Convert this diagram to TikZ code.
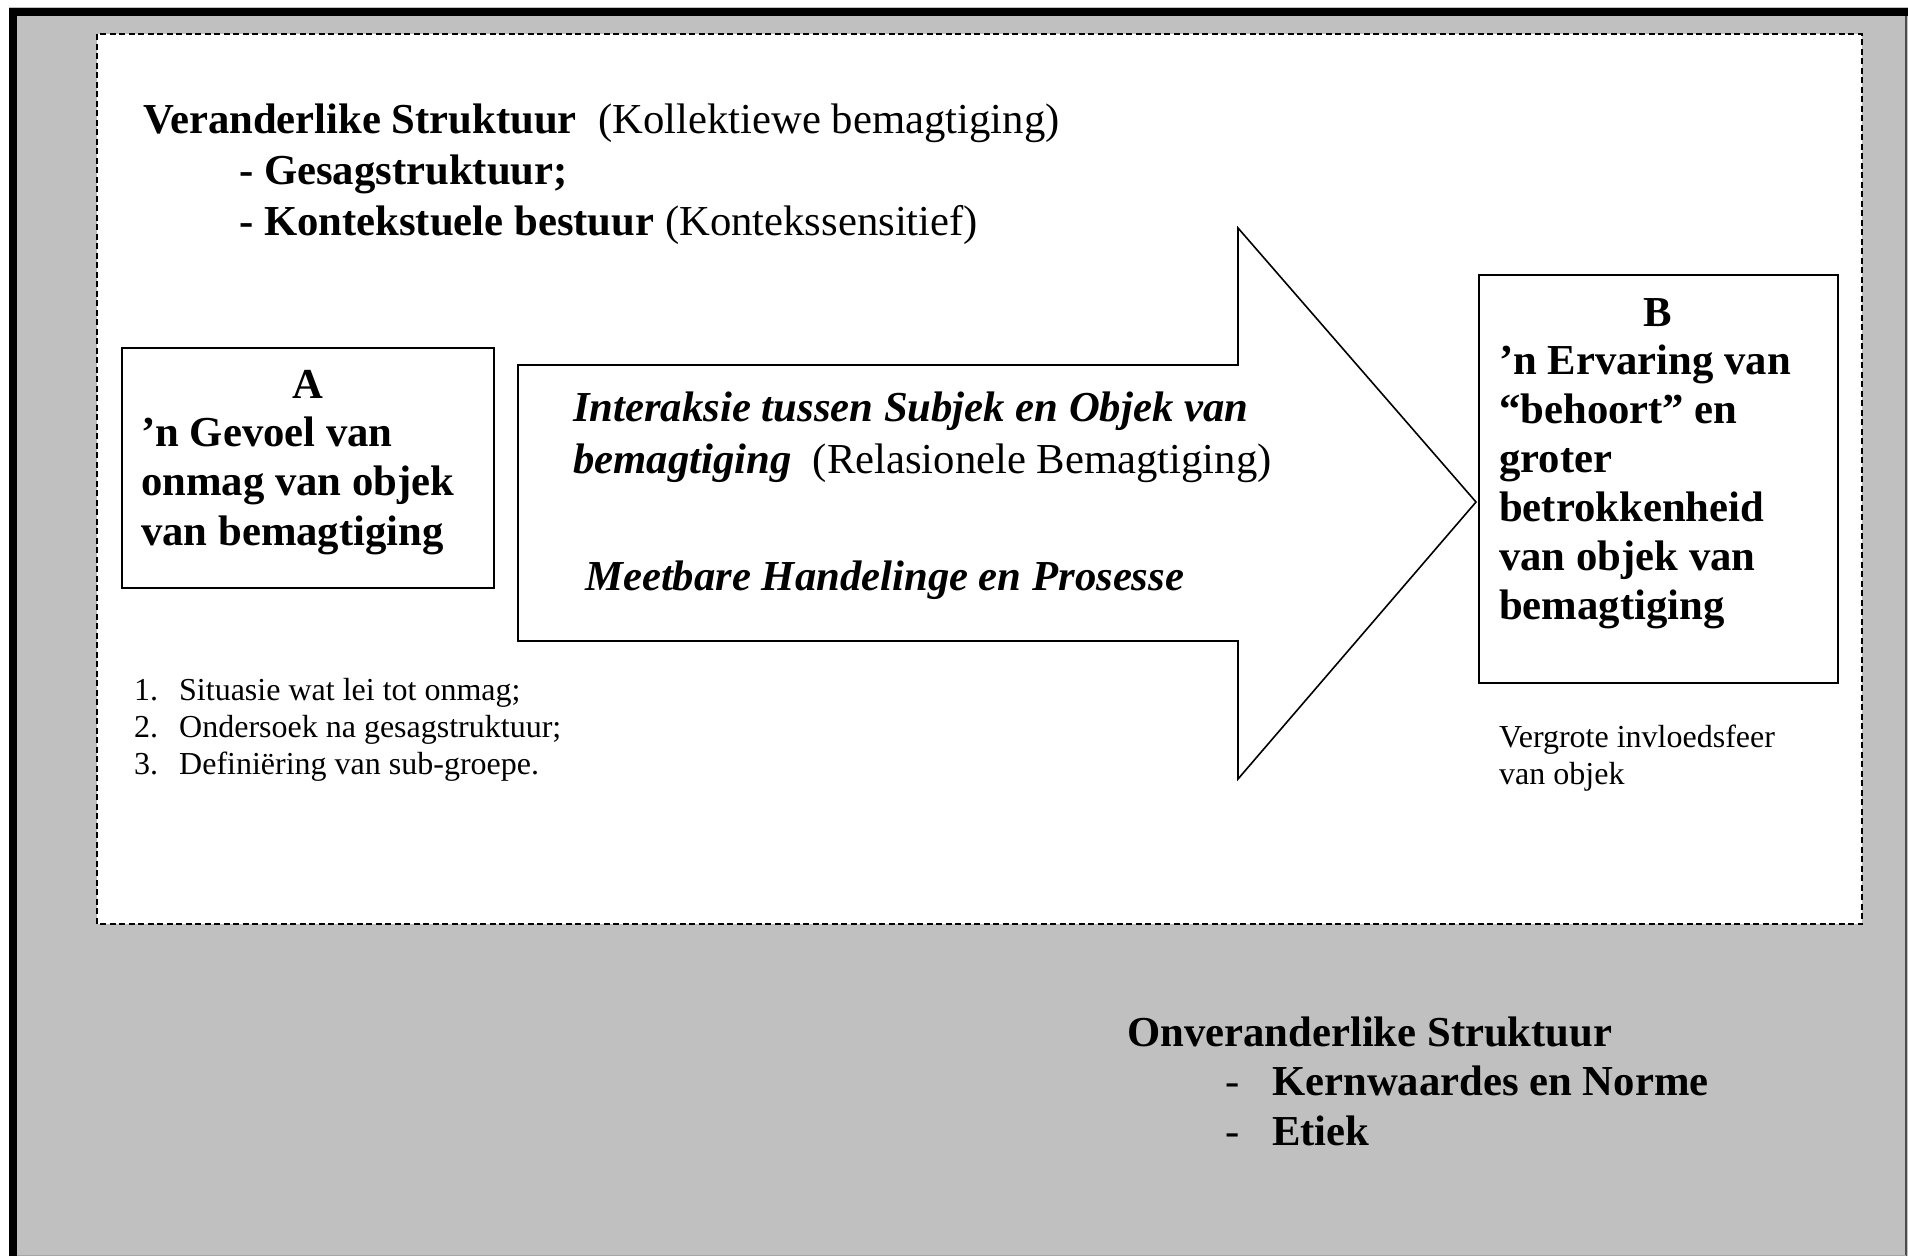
\documentclass[tikz,border=0pt]{standalone}
\usepackage{fontspec}
\setmainfont{Liberation Serif}
\newcommand\fbig{\fontsize{42.7}{49.5}\selectfont}
\newcommand\fsml{\fontsize{32}{37}\selectfont}
\definecolor{framegray}{HTML}{C0C0C0}
\tikzset{
  bold/.style={inner sep=0pt, anchor=base west, font=\fbig\bfseries},
  boldc/.style={inner sep=0pt, anchor=base, font=\fbig\bfseries},
  bital/.style={inner sep=0pt, anchor=base west, font=\fbig\bfseries\itshape},
  reg/.style={inner sep=0pt, anchor=base west, font=\fbig},
  small/.style={inner sep=0pt, anchor=base west, font=\fsml},
  boxstyle/.style={draw=black, line width=2pt, fill=white, inner sep=0pt},
}
\begin{document}
\begin{tikzpicture}[x=1pt,y=-1pt]
\useasboundingbox (0,0) rectangle (1908,1256);
% outer gray field
\fill[framegray] (9,7) rectangle (1908,1256);
\draw[black, line width=8pt] (13,1256) -- (13,11.5) -- (1908,11.5);
\draw[black!70, line width=2pt] (1906,16) -- (1906,1256);
\draw[black!35, line width=1pt] (17,1255.5) -- (1906,1255.5);
% dashed white region
\draw[fill=white, line width=1.6pt, dash pattern=on 6pt off 3.5pt] (97,34) rectangle (1862,924);

% title block
\node[bold] (t1) at (143,133) {Veranderlike Struktuur\ \ \mdseries(Kollektiewe bemagtiging)};
\node[bold] (t2) at (239,184) {- Gesagstruktuur;};
\node[bold] (t3) at (239,235) {- Kontekstuele bestuur \mdseries(Kontekssensitief)};

% box A
\node[boxstyle, minimum width=372pt, minimum height=240pt] (boxA) at (308,468) {};
\node[boldc] (a0) at (308,398) {A};
\node[bold] (a1) at (141,446) {’n Gevoel van};
\node[bold] (a2) at (141,495.5) {onmag van objek};
\node[bold] (a3) at (141,545) {van bemagtiging};

% list
\node[small] (n1) at (134,700) {1.};
\node[small] (l1) at (179,700) {Situasie wat lei tot onmag;};
\node[small] (n2) at (134,737) {2.};
\node[small] (l2) at (179,737) {Ondersoek na gesagstruktuur;};
\node[small] (n3) at (134,774) {3.};
\node[small] (l3) at (179,774) {Definiëring van sub-groepe.};

% big arrow
\draw[line width=1.6pt, line join=miter, fill=white]
  (518,365) -- (1238,365) -- (1238,228) -- (1476,502) -- (1238,779) -- (1238,641) -- (518,641) -- cycle;
\node[bital] (m1) at (573,421) {Interaksie tussen Subjek en Objek van};
\node[bital] (m2) at (573,473) {bemagtiging\ \ \upshape\mdseries(Relasionele Bemagtiging)};
\node[bital] (m3) at (585,590) {Meetbare Handelinge en Prosesse};

% box B
\node[boxstyle, minimum width=359pt, minimum height=408pt] (boxB) at (1658.5,479) {};
\node[boldc] (b0) at (1658,326) {B};
\node[bold] (b1) at (1499,374) {’n Ervaring van};
\node[bold] (b2) at (1499,423) {“behoort” en};
\node[bold] (b3) at (1499,472) {groter};
\node[bold] (b4) at (1499,521) {betrokkenheid};
\node[bold] (b5) at (1499,570) {van objek van};
\node[bold] (b6) at (1499,619) {bemagtiging};
\node[small] (v1) at (1499,747) {Vergrote invloedsfeer};
\node[small] (v2) at (1499,784) {van objek};

% lower block
\node[bold] (o1) at (1127,1046) {Onveranderlike Struktuur};
\node[reg] (d1) at (1225,1095.5) {-};
\node[bold] (o2) at (1272,1095.5) {Kernwaardes en Norme};
\node[reg] (d2) at (1225,1145) {-};
\node[bold] (o3) at (1272,1145) {Etiek};
\end{tikzpicture}
\end{document}
